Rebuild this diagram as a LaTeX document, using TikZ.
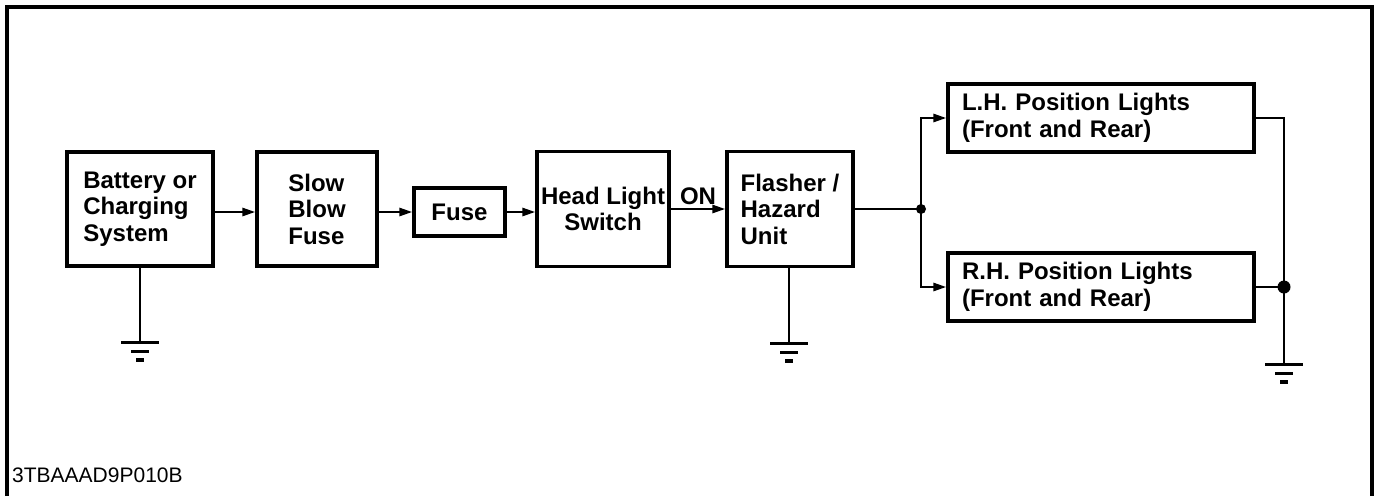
\documentclass[tikz,border=0pt]{standalone}
\usepackage{fontspec}
\setmainfont{Liberation Sans}
\usetikzlibrary{arrows.meta}

\begin{document}
\begin{tikzpicture}[x=1pt, y=-1pt,
    box/.style={draw, line width=3.2pt, inner sep=2pt, align=left,
        font=\bfseries\fontsize{24}{26.5}\selectfont},
    wire/.style={line width=2.6pt},
    feed/.style={wire, -{Triangle[length=13pt, width=8pt]}},
    gnd/.pic={
        \draw[line width=3pt] (-19,0) -- (19,0);
        \draw[line width=3pt] (-9,9) -- (9,9);
        \draw[line width=3.4pt] (-4,18) -- (4,18);
    }]
    \useasboundingbox (0,0) rectangle (1379,496);

    % Frame
    \draw[line width=3.4pt] (7,496) -- (7,7) -- (1372,7) -- (1372,496);

    % Draw nodes
    \node[box, minimum width=146pt, minimum height=114pt] (1) at (140,209) {Battery or\\Charging\\System};
    \node[box, minimum width=120pt, minimum height=114pt] (2) at (317,209) {Slow\\Blow\\Fuse};
    \node[box, minimum width=91pt, minimum height=48pt] (3) at (459.5,212) {Fuse};
    \node[box, align=center, minimum width=132pt, minimum height=115pt] (4) at (603,209) {Head Light\\Switch};
    \node[box, minimum width=126pt, minimum height=115pt] (5) at (790,209) {Flasher /\\Hazard\\Unit};
    \node[box, inner xsep=14pt, text width=278pt, minimum height=68pt] (6) at (1101,118) {L.H. Position Lights\\(Front and Rear)};
    \node[box, inner xsep=14pt, text width=278pt, minimum height=68pt] (7) at (1101,287) {R.H. Position Lights\\(Front and Rear)};

    % Junctions and grounds
    \coordinate (j1) at (921,209);
    \coordinate (j2) at (1284,287);
    \coordinate (g1) at (140,342);
    \coordinate (g2) at (789,343);
    \coordinate (g3) at (1284,364);

    % Draw connections
    \draw[feed] (1.east |- 3) -- (2.west |- 3);
    \draw[feed] (2.east |- 3) -- (3.west);
    \draw[feed] (3.east) -- (4.west |- 3);
    \draw[feed] (4.east) -- (5.west)
        node[midway, above, font=\bfseries\fontsize{24}{26}\selectfont] {ON};
    \draw[wire] (5.east) -- (j1);
    \draw[feed] (j1) |- (6.west);
    \draw[feed] (j1) |- (7.west);
    \draw[wire] (6.east) -| (j2);
    \draw[wire] (7.east) -- (j2);
    \draw[wire] (6.east -| j2) -- (g3);
    \fill (j1) circle (5pt);
    \fill (j2) circle (6.5pt);

    % Grounds
    \draw[wire] (1.south -| g1) -- (g1);
    \draw[wire] (5.south -| g2) -- (g2);
    \pic at (g1) {gnd};
    \pic at (g2) {gnd};
    \pic at (g3) {gnd};

    % Labels
    \node[anchor=base west, inner sep=0pt, font=\fontsize{21}{24}\selectfont] (code) at (12,482) {3TBAAAD9P010B};
\end{tikzpicture}
\end{document}
